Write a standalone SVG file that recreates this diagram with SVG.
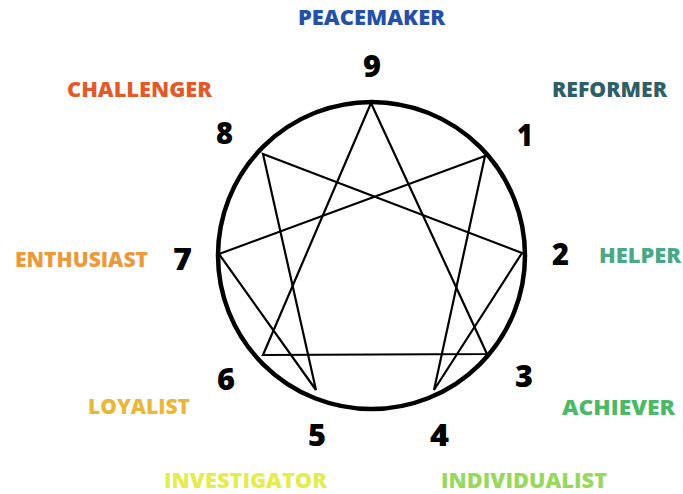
<svg xmlns="http://www.w3.org/2000/svg" width="683" height="494" viewBox="0 0 683 494">
<style>
.lbl{font-family:"Open Sans","Liberation Sans",sans-serif;font-weight:800;font-size:21px}
.num{font-family:"Open Sans","Liberation Sans",sans-serif;font-weight:800;font-size:30px;fill:#000}
.ln{stroke:#000;stroke-width:2.2;fill:none;stroke-linecap:round}
</style>
<rect width="683" height="494" fill="#fff"/>
<g id="circle"><circle cx="371.5" cy="255.5" r="153.5" fill="none" stroke="#000" stroke-width="4.5"/></g>
<g id="connectors">
<polygon class="ln" points="371,103 487,354 263,355"/>
<polyline class="ln" points="485,156 434,390 522,253 263,154 316,390 219,254 485,156"/>
</g>
<g id="n9"><text class="num" x="363" y="77" textLength="18" lengthAdjust="spacingAndGlyphs">9</text><text class="lbl" x="298" y="25" textLength="147" lengthAdjust="spacingAndGlyphs" fill="#2451a6">PEACEMAKER</text></g>
<g id="n1"><text class="num" x="517" y="146" textLength="16" lengthAdjust="spacingAndGlyphs">1</text><text class="lbl" x="552" y="97" textLength="115" lengthAdjust="spacingAndGlyphs" fill="#2e5f66">REFORMER</text></g>
<g id="n2"><text class="num" x="552" y="265" textLength="17" lengthAdjust="spacingAndGlyphs">2</text><text class="lbl" x="599" y="263" textLength="82" lengthAdjust="spacingAndGlyphs" fill="#4aa886">HELPER</text></g>
<g id="n3"><text class="num" x="515" y="387" textLength="18" lengthAdjust="spacingAndGlyphs">3</text><text class="lbl" x="562" y="415" textLength="113" lengthAdjust="spacingAndGlyphs" fill="#4cb868">ACHIEVER</text></g>
<g id="n4"><text class="num" x="430" y="446" textLength="19" lengthAdjust="spacingAndGlyphs">4</text><text class="lbl" x="441" y="488" textLength="166" lengthAdjust="spacingAndGlyphs" fill="#98d860">INDIVIDUALIST</text></g>
<g id="n5"><text class="num" x="308" y="446" textLength="18" lengthAdjust="spacingAndGlyphs">5</text><text class="lbl" x="164" y="488" textLength="163" lengthAdjust="spacingAndGlyphs" fill="#e4ec50">INVESTIGATOR</text></g>
<g id="n6"><text class="num" x="217" y="390" textLength="18" lengthAdjust="spacingAndGlyphs">6</text><text class="lbl" x="88" y="414" textLength="102" lengthAdjust="spacingAndGlyphs" fill="#e8b83c">LOYALIST</text></g>
<g id="n7"><text class="num" x="173" y="270" textLength="19" lengthAdjust="spacingAndGlyphs">7</text><text class="lbl" x="15" y="267" textLength="133" lengthAdjust="spacingAndGlyphs" fill="#e89a3c">ENTHUSIAST</text></g>
<g id="n8"><text class="num" x="216" y="144" textLength="17" lengthAdjust="spacingAndGlyphs">8</text><text class="lbl" x="67" y="97" textLength="145" lengthAdjust="spacingAndGlyphs" fill="#e05a2c">CHALLENGER</text></g>
</svg>
